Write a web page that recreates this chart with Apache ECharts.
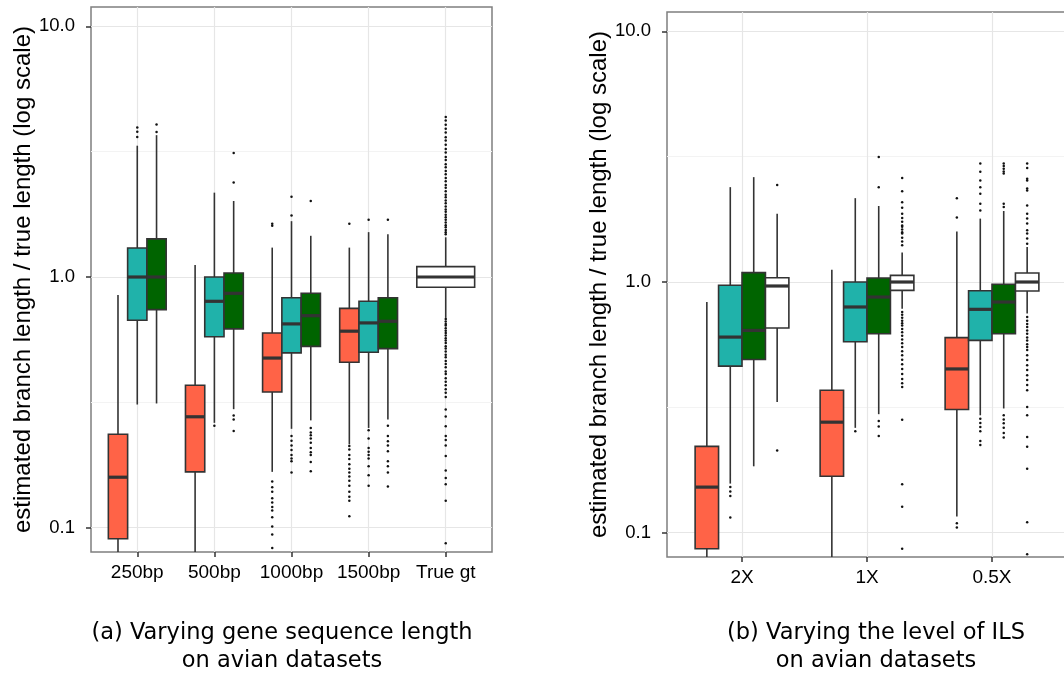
<!DOCTYPE html>
<html><head><meta charset="utf-8">
<script src="https://cdn.jsdelivr.net/npm/echarts@6/dist/echarts.min.js"></script>
<style>html,body{margin:0;padding:0;background:#fff}#c{width:1064px;height:675px}</style>
</head><body><div id="c"></div>
<script>
// ---------------- data ----------------
const catsA = ['250bp', '500bp', '1000bp', '1500bp', 'True gt'];
const catsB = ['2X', '1X', '0.5X'];
const majorTicks = [0.1, 1, 10];
const minorTicks = [0.316, 3.16];
const yAxisTitle = 'estimated branch length / true length (log scale)';
const captionA = '(a) Varying gene sequence length\non avian datasets';
const captionB = '(b) Varying the level of ILS\non avian datasets';

// box stats: [min, Q1, median, Q3, max]
const redA   = [[0.07, 0.0904, 0.159, 0.236, 0.848], [0.07, 0.167, 0.277, 0.370, 1.116], [0.167, 0.348, 0.475, 0.598, 1.31], [0.215, 0.457, 0.608, 0.75, 1.31], null];
const tealA  = [[0.31, 0.672, 1.0, 1.305, 3.34], [0.262, 0.578, 0.80, 1.0, 2.17], [0.248, 0.498, 0.65, 0.827, 1.67], [0.25, 0.501, 0.656, 0.80, 1.51], null];
const greenA = [[0.313, 0.741, 1.0, 1.42, 3.68], [0.297, 0.621, 0.861, 1.037, 2.01], [0.268, 0.529, 0.701, 0.861, 1.46], [0.270, 0.518, 0.666, 0.827, 1.48], null];
const whiteA = [null, null, null, null, [0.687, 0.91, 1.0, 1.10, 1.44]];

const redB   = [[0.07, 0.0863, 0.152, 0.221, 0.832], [0.07, 0.168, 0.276, 0.370, 1.12], [0.116, 0.31, 0.45, 0.60, 1.59]];
const tealB  = [[0.157, 0.462, 0.603, 0.97, 2.39], [0.262, 0.578, 0.795, 1.0, 2.16], [0.294, 0.585, 0.778, 0.923, 1.79]];
const greenB = [[0.184, 0.491, 0.641, 1.09, 2.62], [0.297, 0.622, 0.871, 1.037, 2.01], [0.313, 0.622, 0.832, 0.979, 1.92]];
const whiteB = [[0.332, 0.655, 0.964, 1.04, 1.87], [0.783, 0.926, 1.0, 1.063, 1.31], [0.748, 0.921, 1.0, 1.086, 1.38]];

// outliers per category
const redOutA   = [[], [], [1.63, 1.60, 0.153, 0.145, 0.139, 0.131, 0.126, 0.121, 0.117, 0.110, 0.101, 0.094, 0.083], [1.63, 0.212, 0.205, 0.195, 0.188, 0.179, 0.172, 0.166, 0.160, 0.154, 0.147, 0.139, 0.133, 0.128, 0.111], []];
const tealOutA  = [[3.95, 3.80, 3.62], [0.255], [2.09, 1.76, 0.232, 0.222, 0.213, 0.204, 0.195, 0.189, 0.184, 0.166], [1.69, 0.245, 0.227, 0.208, 0.201, 0.195, 0.189, 0.176, 0.162, 0.147], []];
const greenOutA = [[4.06, 3.79], [3.12, 2.38, 0.280, 0.270, 0.243], [2.01, 0.250, 0.240, 0.234, 0.227, 0.218, 0.208, 0.200, 0.195, 0.183, 0.168], [1.69, 0.255, 0.232, 0.221, 0.213, 0.202, 0.184, 0.176, 0.166, 0.146], []];
const whiteOutA = [[], [], [], [], [4.35, 4.21, 4.05, 3.9, 3.77, 3.61, 3.5, 3.37, 3.24, 3.14, 3.01, 2.93, 2.82, 2.74, 2.65, 2.57, 2.48, 2.41, 2.33, 2.27, 2.2, 2.13, 2.08, 2.02, 1.97, 1.91, 1.86, 1.82, 1.77, 1.73, 1.69, 1.65, 1.61, 1.58, 1.54, 1.51, 1.48,
  0.68, 0.665, 0.65, 0.64, 0.625, 0.61, 0.598, 0.585, 0.57, 0.558, 0.545, 0.53, 0.518, 0.505, 0.49, 0.478, 0.462, 0.45, 0.437, 0.42, 0.41, 0.395, 0.382, 0.37, 0.357, 0.345, 0.332, 0.296, 0.278, 0.254, 0.232, 0.224, 0.213, 0.193, 0.169, 0.158, 0.149, 0.128, 0.0867]];

const redOutB   = [[], [], [2.16, 1.81, 0.109, 0.105]];
const tealOutB  = [[0.152, 0.146, 0.140, 0.115], [0.254], [2.97, 2.75, 2.54, 2.39, 2.25, 2.05, 1.93, 0.285, 0.274, 0.264, 0.254, 0.232, 0.224]];
const greenOutB = [[], [3.15, 2.39, 0.279, 0.265, 0.243], [2.97, 2.90, 2.83, 2.76, 2.71, 2.05, 1.99, 0.294, 0.283, 0.273, 0.262, 0.250, 0.240]];
const whiteOutB = [[2.44, 0.213],
  [2.60, 2.30, 2.08, 1.98, 1.87, 1.80, 1.74, 1.68, 1.66, 1.62, 1.58, 1.56, 1.50, 1.45, 1.40, 0.76, 0.74, 0.72, 0.70, 0.685, 0.67, 0.65, 0.63, 0.61, 0.59, 0.57, 0.551, 0.53, 0.51, 0.49, 0.47, 0.45, 0.43, 0.41, 0.395, 0.381, 0.282, 0.156, 0.127, 0.0863],
  [2.97, 2.85, 2.58, 2.54, 2.36, 2.32, 2.02, 1.87, 1.79, 1.71, 1.61, 1.56, 1.49, 1.42, 0.725, 0.70, 0.68, 0.662, 0.64, 0.622, 0.60, 0.585, 0.565, 0.551, 0.535, 0.51, 0.488, 0.466, 0.446, 0.425, 0.407, 0.388, 0.370, 0.317, 0.294, 0.241, 0.220, 0.180, 0.110, 0.082]];

// ---------------- styles ----------------
const COL = { red: '#FF6347', teal: '#20B2AA', green: '#006400', white: '#FFFFFF' };
const EDGE = '#333333';
const AXIS_FONT = 'Liberation Sans, Arial, sans-serif';
const CAP_FONT = 'DejaVu Sans, sans-serif';
const YMIN = 0.08, YMAX = 11.94;

function boxSeries(xi, yi, stats, color, offset, width) {
  const data = [];
  stats.forEach((s, i) => { if (s) data.push([i].concat(s)); });
  return {
    type: 'custom', xAxisIndex: xi, yAxisIndex: yi, clip: true, silent: true, z: 2,
    encode: { x: 0, y: [1, 2, 3, 4, 5] },
    renderItem: function (params, api) {
      const x = api.value(0);
      const p = k => api.coord([x + offset, api.value(k)]);
      const unit = api.coord([1, 1])[0] - api.coord([0, 1])[0];
      const hw = unit * width / 2;
      const pMin = p(1), pQ1 = p(2), pMed = p(3), pQ3 = p(4), pMax = p(5);
      const cx = pMed[0];
      return {
        type: 'group', children: [
          { type: 'line', shape: { x1: cx, y1: pQ3[1], x2: cx, y2: pMax[1] }, style: { stroke: EDGE, lineWidth: 1.6 } },
          { type: 'line', shape: { x1: cx, y1: pQ1[1], x2: cx, y2: pMin[1] }, style: { stroke: EDGE, lineWidth: 1.6 } },
          { type: 'rect', shape: { x: cx - hw, y: pQ3[1], width: 2 * hw, height: pQ1[1] - pQ3[1] }, style: { fill: color, stroke: EDGE, lineWidth: 1.6 } },
          { type: 'line', shape: { x1: cx - hw, y1: pMed[1], x2: cx + hw, y2: pMed[1] }, style: { stroke: EDGE, lineWidth: 3.2 } }
        ]
      };
    },
    data: data
  };
}
function outlierSeries(xi, yi, outs, offset) {
  const data = [];
  outs.forEach((arr, i) => arr.forEach(v => data.push([i + offset, v])));
  return { type: 'scatter', xAxisIndex: xi, yAxisIndex: yi, symbol: 'circle', symbolSize: 2.5, silent: true, z: 3,
    itemStyle: { color: '#111', opacity: 1 }, data: data };
}

function xAxisFor(gi, cats) {
  const idx = cats.map((c, i) => i);
  return {
    gridIndex: gi, type: 'value', min: -0.6, max: cats.length - 0.4, position: 'bottom',
    axisLine: { show: false, onZero: false },
    axisTick: { show: true, customValues: idx, length: 5, lineStyle: { color: EDGE, width: 1.5 } },
    axisLabel: { customValues: idx, formatter: v => cats[Math.round(v)], color: '#000', fontSize: 19, fontFamily: AXIS_FONT, margin: 11.5 },
    splitLine: { show: true, lineStyle: { color: '#e6e6e6', width: 1.2 } }
  };
}
function yMajor(gi) {
  return {
    gridIndex: gi, type: 'log', logBase: 10, min: YMIN, max: YMAX, position: 'left',
    name: yAxisTitle, nameLocation: 'middle', nameGap: 56,
    nameTextStyle: { fontSize: 24, fontFamily: AXIS_FONT, color: '#000' },
    axisLine: { show: false, onZero: false },
    axisTick: { show: true, customValues: majorTicks, length: 5, lineStyle: { color: EDGE, width: 1.5 } },
    axisLabel: { customValues: majorTicks, formatter: v => Number(v).toFixed(1), color: '#000', fontSize: 18.5, fontFamily: AXIS_FONT, margin: 16 },
    splitLine: { show: true, lineStyle: { color: '#e6e6e6', width: 1.2 } }
  };
}
function yMinor(gi) {
  return {
    gridIndex: gi, type: 'log', logBase: 10, min: YMIN, max: YMAX, position: 'left',
    axisLine: { show: false, onZero: false },
    axisTick: { show: false, customValues: minorTicks },
    axisLabel: { show: false, customValues: minorTicks },
    splitLine: { show: true, lineStyle: { color: '#f3f3f3', width: 1.2 } }
  };
}

const dodgeA = [-0.25, 0, 0.25], wA = 0.25;
const dodgeB = [-0.28125, -0.09375, 0.09375, 0.28125], wB = 0.1875;

const option = {
  backgroundColor: '#ffffff',
  animation: false,
  title: [
    { text: captionA, left: 282, top: 619, textAlign: 'center', padding: 0,
      textStyle: { fontFamily: CAP_FONT, fontSize: 22.5, fontWeight: 'normal', lineHeight: 28, color: '#000' } },
    { text: captionB, left: 876, top: 619, textAlign: 'center', padding: 0,
      textStyle: { fontFamily: CAP_FONT, fontSize: 22.5, fontWeight: 'normal', lineHeight: 28, color: '#000' } }
  ],
  grid: [
    { left: 91, top: 7, width: 401, height: 545, show: true, borderColor: '#7f7f7f', borderWidth: 1.5, backgroundColor: 'transparent', containLabel: false, outerBoundsMode: 'none' },
    { left: 667, top: 12, width: 400, height: 545, show: true, borderColor: '#7f7f7f', borderWidth: 1.5, backgroundColor: 'transparent', containLabel: false, outerBoundsMode: 'none' }
  ],
  xAxis: [xAxisFor(0, catsA), xAxisFor(1, catsB)],
  yAxis: [yMajor(0), yMinor(0), yMajor(1), yMinor(1)],
  series: [
    boxSeries(0, 0, redA, COL.red, dodgeA[0], wA),
    boxSeries(0, 0, tealA, COL.teal, dodgeA[1], wA),
    boxSeries(0, 0, greenA, COL.green, dodgeA[2], wA),
    boxSeries(0, 0, whiteA, COL.white, 0, 0.75),
    outlierSeries(0, 0, redOutA, dodgeA[0]),
    outlierSeries(0, 0, tealOutA, dodgeA[1]),
    outlierSeries(0, 0, greenOutA, dodgeA[2]),
    outlierSeries(0, 0, whiteOutA, 0),
    boxSeries(1, 2, redB, COL.red, dodgeB[0], wB),
    boxSeries(1, 2, tealB, COL.teal, dodgeB[1], wB),
    boxSeries(1, 2, greenB, COL.green, dodgeB[2], wB),
    boxSeries(1, 2, whiteB, COL.white, dodgeB[3], wB),
    outlierSeries(1, 2, redOutB, dodgeB[0]),
    outlierSeries(1, 2, tealOutB, dodgeB[1]),
    outlierSeries(1, 2, greenOutB, dodgeB[2]),
    outlierSeries(1, 2, whiteOutB, dodgeB[3])
  ]
};
const chart = echarts.init(document.getElementById('c'), null, { renderer: 'canvas' });
chart.setOption(option);
</script></body></html>
